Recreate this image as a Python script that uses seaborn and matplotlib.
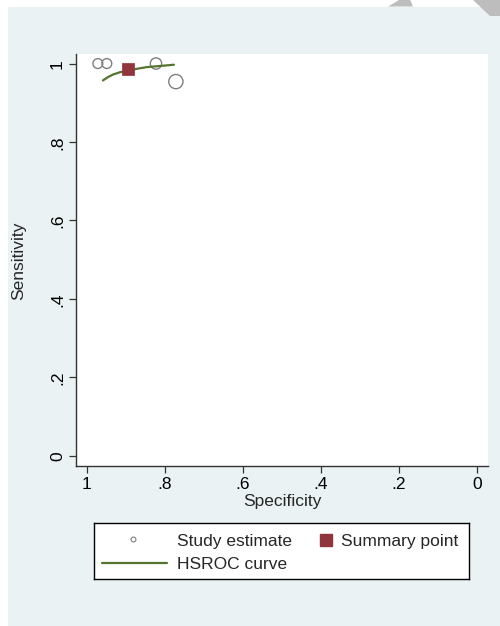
import numpy as np
import pandas as pd
import matplotlib
matplotlib.use("Agg")
from matplotlib import pyplot as plt
from matplotlib.patches import Rectangle, Polygon
import seaborn as sns

# study estimates (specificity, sensitivity, relative weight)
study_spec = [0.972, 0.949, 0.823, 0.772]
study_sens = [1.0, 1.0, 1.0, 0.954]
study_weight = [1.0, 1.0, 1.3, 2.0]

# summary operating point
summary_spec = [0.895]
summary_sens = [0.987]

# HSROC curve
curve_spec = [0.959, 0.945, 0.933, 0.915, 0.895, 0.870, 0.846, 0.810, 0.777]
curve_sens = [0.957, 0.966, 0.972, 0.978, 0.982, 0.987, 0.991, 0.994, 0.997]

tick_vals = [0, 0.2, 0.4, 0.6, 0.8, 1]
tick_labels = ["0", ".2", ".4", ".6", ".8", "1"]

sns.set_style("white")
plt.rcParams['font.family'] = ['Liberation Sans', 'DejaVu Sans']
plt.rcParams['font.size'] = 12.5

bg = '#EAF2F3'
maroon = '#90353B'
green = '#55752F'
grey = '#7F7F7F'

fig = plt.figure(figsize=(5, 6.265), dpi=100)
fig.patch.set_facecolor('white')
W, H = 500, 626
# outer graph region
fig.patches.append(Rectangle((8 / W, 0), 1 - 8 / W, 1 - 7 / H, transform=fig.transFigure,
                             facecolor=bg, edgecolor='none', zorder=-2))
# gray watermark bits in the top corner
for pts in ([(388, 7), (400, 0), (410, 0), (413, 7)],
            [(473, 0), (500, 0), (500, 16), (490, 16)]):
    fig.patches.append(Polygon([(x / W, 1 - y / H) for x, y in pts], closed=True,
                               transform=fig.transFigure, facecolor='#BDBDBD',
                               edgecolor='none', zorder=-1))

ax = fig.add_axes([76 / W, 1 - 466 / H, (488 - 76) / W, (466 - 54) / H])
ax.set_zorder(2)
ax.set_facecolor('white')

studies = pd.DataFrame({'spec': study_spec, 'sens': study_sens, 'w': study_weight})
sns.scatterplot(data=studies, x='spec', y='sens', size='w', sizes=(50, 105),
                marker='o', facecolor='none', edgecolor=grey, linewidth=1.0,
                legend=False, ax=ax, zorder=3)

curve = pd.DataFrame({'spec': curve_spec, 'sens': curve_sens})
sns.lineplot(data=curve, x='spec', y='sens', sort=False, color=green,
             linewidth=1.6, ax=ax, zorder=4)

summ = pd.DataFrame({'spec': summary_spec, 'sens': summary_sens})
sns.scatterplot(data=summ, x='spec', y='sens', marker='s', s=75, color=maroon,
                edgecolor=maroon, linewidth=0.5, legend=False, ax=ax, zorder=5)

ax.set_xlim(1.028, -0.028)
ax.set_ylim(-0.0255, 1.0255)
ax.set_xticks(tick_vals)
ax.set_xticklabels(tick_labels)
ax.set_yticks(tick_vals)
ax.set_yticklabels(tick_labels, rotation=90, va='center')
ax.tick_params(axis='both', direction='out', length=5, width=0.9, color='#333333',
               labelsize=12.5, labelcolor='black', bottom=True, left=True)
ax.tick_params(axis='y', pad=3)
ax.tick_params(axis='x', pad=3)
for side in ['top', 'right']:
    ax.spines[side].set_visible(False)
for side in ['left', 'bottom']:
    ax.spines[side].set_color('#333333')
    ax.spines[side].set_linewidth(1.0)
ax.set_xlabel('Specificity', fontsize=12.5, labelpad=1)
ax.set_ylabel('Sensitivity', fontsize=12.5)
ax.yaxis.set_label_coords((26 - 76) / (488 - 76), (466 - 261) / (466 - 54))

# legend box drawn in its own axes (pixel coordinates)
lg = fig.add_axes([94 / W, 1 - 579 / H, (469 - 94) / W, (579 - 523) / H])
lg.set_zorder(2)
lg.set_xlim(94, 469)
lg.set_ylim(579, 523)
lg.set_facecolor('white')
lg.set_xticks([])
lg.set_yticks([])
for s in lg.spines.values():
    s.set_color('black')
    s.set_linewidth(1.0)
lg.plot([133], [539], marker='o', markersize=3.5, markerfacecolor='none',
        markeredgecolor=grey, markeredgewidth=0.8, linestyle='none')
lg.plot([326], [540], marker='s', markersize=8.5, color=maroon, linestyle='none')
lg.plot([102, 167], [563, 563], color=green, linewidth=1.6)
lg.text(177, 541, 'Study estimate', va='center', ha='left', fontsize=12.5)
lg.text(341, 541, 'Summary point', va='center', ha='left', fontsize=12.5)
lg.text(177, 564, 'HSROC curve', va='center', ha='left', fontsize=12.5)

fig.savefig('out.png', dpi=100, facecolor=fig.get_facecolor())
